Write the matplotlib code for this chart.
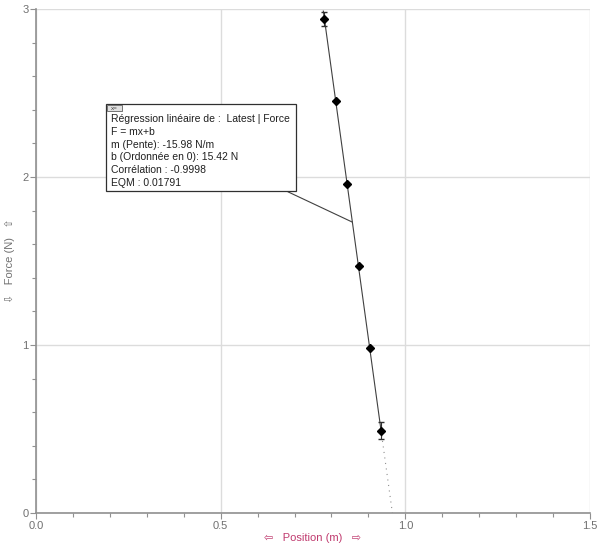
import matplotlib
matplotlib.use("Agg")
import matplotlib.pyplot as plt
from matplotlib.patches import Rectangle
import numpy as np

position = [0.781, 0.811, 0.842, 0.874, 0.904, 0.934]
force = [2.94, 2.45, 1.96, 1.47, 0.98, 0.49]
force_err = [0.04, 0.0, 0.0, 0.0, 0.0, 0.05]
slope = -15.98
intercept = 15.42
fit_lines = ["Régression linéaire de :  Latest | Force",
             "F = mx+b",
             "m (Pente): -15.98 N/m",
             "b (Ordonnée en 0): 15.42 N",
             "Corrélation : -0.9998",
             "EQM : 0.01791"]
xticks = [0.0, 0.5, 1.0, 1.5]
xticklabels = ["0.0", "0.5", "1.0", "1.5"]
yticks = [0, 1, 2, 3]
yticklabels = ["0", "1", "2", "3"]

plt.rcParams['font.family'] = ['Liberation Sans', 'DejaVu Sans']
fig = plt.figure(figsize=(6.0, 5.45), dpi=100)
ax = fig.add_axes([36/600, 32/545, (590-36)/600, (513-9)/545])
ax.set_xlim(0, 1.5)
ax.set_ylim(0, 3)

ax.set_xticks(xticks)
ax.set_xticklabels(xticklabels)
ax.set_yticks(yticks)
ax.set_yticklabels(yticklabels)
ax.set_xticks(np.arange(0, 1.51, 0.1), minor=True)
ax.set_yticks(np.arange(0, 3.01, 0.2), minor=True)
ax.tick_params(which='both', direction='out', colors='#909090', labelcolor='#707070',
               labelsize=8, length=4, width=0.8, pad=1.5)
ax.tick_params(which='minor', length=3)
for s in ['top', 'right']:
    ax.spines[s].set_visible(False)
for s in ['left', 'bottom']:
    ax.spines[s].set_color('#909090')
    ax.spines[s].set_linewidth(1.2)
ax.grid(True, which='major', color='#dcdcdc', linewidth=1.0)
ax.set_axisbelow(True)

# regression line
xs = np.array([min(position) - 0.003, max(position)])
ax.plot(xs, slope * xs + intercept, color='#404040', linewidth=0.8, zorder=3)
xd = np.array([max(position), -intercept / slope])
ax.plot(xd, slope * xd + intercept, color='#909090', linewidth=0.8, linestyle=(0, (1, 4)), zorder=3)

# data points
ax.errorbar(position, force, yerr=force_err, fmt='D', color='black', markersize=4.5,
            ecolor='#303030', elinewidth=0.8, capsize=2, zorder=4)

# annotation box
bx0, by0, bx1, by1 = 0.19, 1.917, 0.704, 2.435
ax.add_patch(Rectangle((bx0, by0), bx1 - bx0, by1 - by0, facecolor='white',
                       edgecolor='#303030', linewidth=0.9, zorder=5))
ax.add_patch(Rectangle((bx0 + 0.003, by1 - 0.045), 0.04, 0.038, facecolor='#e0e0e0',
                       edgecolor='#606060', linewidth=0.6, zorder=6))
ax.text(bx0 + 0.023, by1 - 0.026, "x=", fontsize=4.5, ha='center', va='center', color='#404040', zorder=7)
for i, line in enumerate(fit_lines):
    ax.text(bx0 + 0.013, by1 - 0.09 - i * 0.076, line, fontsize=7.5, color='#202020',
            va='center', ha='left', zorder=6)
ax.plot([0.683, 0.856], [1.911, 1.732], color='#404040', linewidth=0.8, zorder=3)

ax.set_xlabel("\u21e6   Position (m)   \u21e8", color='#c03a6e', fontsize=8, labelpad=2)
ax.set_ylabel("\u21e9   Force (N)   \u21e7", color='#707070', fontsize=8)
ax.yaxis.set_label_coords(-21/554, 0.5)

fig.savefig("out.png", dpi=100, facecolor='white')
